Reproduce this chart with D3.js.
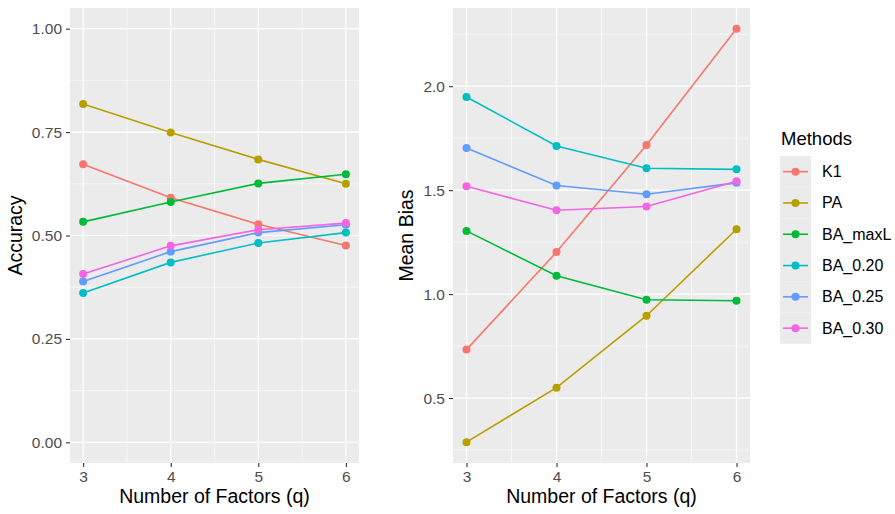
<!DOCTYPE html>
<html>
<head>
<meta charset="utf-8">
<script src="https://cdn.jsdelivr.net/npm/d3@7"></script>
<style>
  body { margin: 0; background: #fff; }
  text { font-family: "Liberation Sans", Arial, sans-serif; }
</style>
</head>
<body>
<svg id="chart" width="895" height="514"></svg>
<script>
const factors = [3, 4, 5, 6];
const methods = ["K1", "PA", "BA_maxL", "BA_0.20", "BA_0.25", "BA_0.30"];
const colors = ["#F8766D", "#B79F00", "#00BA38", "#00BFC4", "#619CFF", "#F564E3"];

// accuracy per method, q = 3..6
const accK1 = [0.672, 0.591, 0.527, 0.476];
const accPA = [0.818, 0.749, 0.684, 0.625];
const accMaxL = [0.533, 0.581, 0.626, 0.648];
const acc020 = [0.361, 0.435, 0.482, 0.507];
const acc025 = [0.389, 0.461, 0.507, 0.526];
const acc030 = [0.407, 0.475, 0.514, 0.530];

// mean bias per method, q = 3..6
const biasK1 = [0.733, 1.202, 1.717, 2.276];
const biasPA = [0.288, 0.550, 0.896, 1.312];
const biasMaxL = [1.304, 1.088, 0.973, 0.968];
const bias020 = [1.948, 1.712, 1.605, 1.600];
const bias025 = [1.703, 1.522, 1.480, 1.535];
const bias030 = [1.519, 1.403, 1.421, 1.543];

const accTicks = [0, 0.25, 0.5, 0.75, 1.0];
const accTickLabels = ["0.00", "0.25", "0.50", "0.75", "1.00"];
const biasTicks = [0.5, 1.0, 1.5, 2.0];
const biasTickLabels = ["0.5", "1.0", "1.5", "2.0"];

const svg = d3.select("#chart");

function panel(opts) {
  const { left, right, top, bottom, yDomain, yTicks, yTickLabels, yMinor, series, yTitle, yTitleX } = opts;
  const g = svg.append("g");
  const x = d3.scaleLinear().domain([2.85, 6.15]).range([left, right]);
  const y = d3.scaleLinear().domain(yDomain).range([bottom, top]);

  g.append("rect")
    .attr("x", left).attr("y", top)
    .attr("width", right - left).attr("height", bottom - top)
    .attr("fill", "#EBEBEB");

  // minor grid
  [3.5, 4.5, 5.5].forEach(v => {
    g.append("line").attr("x1", x(v)).attr("x2", x(v)).attr("y1", top).attr("y2", bottom)
      .attr("stroke", "#fff").attr("stroke-width", 0.6);
  });
  yMinor.forEach(v => {
    g.append("line").attr("x1", left).attr("x2", right).attr("y1", y(v)).attr("y2", y(v))
      .attr("stroke", "#fff").attr("stroke-width", 0.6);
  });
  // major grid
  factors.forEach(v => {
    g.append("line").attr("x1", x(v)).attr("x2", x(v)).attr("y1", top).attr("y2", bottom)
      .attr("stroke", "#fff").attr("stroke-width", 1.2);
  });
  yTicks.forEach(v => {
    g.append("line").attr("x1", left).attr("x2", right).attr("y1", y(v)).attr("y2", y(v))
      .attr("stroke", "#fff").attr("stroke-width", 1.2);
  });

  // axes
  const xAxis = g.append("g")
    .attr("transform", `translate(0,${bottom})`)
    .call(d3.axisBottom(x).tickValues(factors).tickSize(4).tickPadding(4).tickFormat(d3.format("d")));
  const yAxis = g.append("g")
    .attr("transform", `translate(${left},0)`)
    .call(d3.axisLeft(y).tickValues(yTicks).tickSize(4).tickPadding(4)
      .tickFormat((d, i) => yTickLabels[i]));
  [xAxis, yAxis].forEach(a => {
    a.select(".domain").remove();
    a.selectAll(".tick line").attr("stroke", "#333").attr("stroke-width", 1.1);
    a.selectAll(".tick text").attr("fill", "#4D4D4D").style("font-size", "15.5px");
  });

  const line = d3.line().x((d, i) => x(factors[i])).y(d => y(d));
  series.forEach((vals, k) => {
    g.append("path").datum(vals)
      .attr("d", line).attr("fill", "none")
      .attr("stroke", colors[k]).attr("stroke-width", 1.6);
    g.selectAll(null).data(vals).join("circle")
      .attr("cx", (d, i) => x(factors[i])).attr("cy", d => y(d))
      .attr("r", 4).attr("fill", colors[k]);
  });

  g.append("text")
    .attr("x", (left + right) / 2).attr("y", 503)
    .attr("text-anchor", "middle").attr("fill", "#000")
    .style("font-size", "19.5px")
    .text("Number of Factors (q)");
  g.append("text")
    .attr("transform", `translate(${yTitleX},${(top + bottom) / 2}) rotate(-90)`)
    .attr("text-anchor", "middle").attr("fill", "#000")
    .style("font-size", "19.5px")
    .text(yTitle);
}

panel({
  left: 70, right: 359, top: 8, bottom: 463,
  yDomain: [-0.05, 1.05],
  yTicks: accTicks, yTickLabels: accTickLabels,
  yMinor: [0.125, 0.375, 0.625, 0.875],
  series: [accK1, accPA, accMaxL, acc020, acc025, acc030],
  yTitle: "Accuracy", yTitleX: 22
});

panel({
  left: 453, right: 750, top: 8, bottom: 463,
  yDomain: [0.1876, 2.3760],
  yTicks: biasTicks, yTickLabels: biasTickLabels,
  yMinor: [0.25, 0.75, 1.25, 1.75, 2.25],
  series: [biasK1, biasPA, biasMaxL, bias020, bias025, bias030],
  yTitle: "Mean Bias", yTitleX: 413
});

// legend
const lg = svg.append("g").attr("transform", "translate(780,156)");
lg.append("text").attr("x", 1).attr("y", -11)
  .attr("fill", "#000").style("font-size", "18.5px").text("Methods");
const keyH = 31.3, keyW = 31;
methods.forEach((m, i) => {
  const row = lg.append("g").attr("transform", `translate(0,${i * keyH})`);
  row.append("rect").attr("width", keyW).attr("height", keyH).attr("fill", "#EBEBEB");
  row.append("line").attr("x1", 3).attr("x2", keyW - 3)
    .attr("y1", keyH / 2).attr("y2", keyH / 2)
    .attr("stroke", colors[i]).attr("stroke-width", 1.6);
  row.append("circle").attr("cx", keyW / 2).attr("cy", keyH / 2).attr("r", 4).attr("fill", colors[i]);
  row.append("text").attr("x", keyW + 11).attr("y", keyH / 2 + 5.5)
    .attr("fill", "#000").style("font-size", "16px").text(m);
});
</script>
</body>
</html>
